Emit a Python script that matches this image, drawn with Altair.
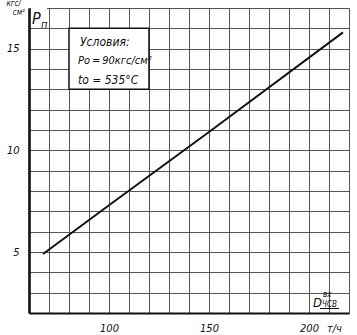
import altair as alt
import pandas as pd

# ---- data ----
flow = [67, 100, 150, 217]            # D вх ЧСВ, т/ч
pressure = [4.9, 7.3, 10.9, 15.8]     # P п, кгс/см²
x_grid = list(range(60, 221, 10))
y_grid = list(range(2, 18))
x_labels = [100, 150, 200]
y_labels = [5, 10, 15]
box_lines = ["Условия:", "Pо\u2009=\u200990кгс/см²", "tо = 535°C"]
box_sizes = [12, 11, 12]

FONT = "DejaVu Sans Condensed"
INK = "#111111"

df = pd.DataFrame({"D": flow, "P": pressure})

xscale = alt.Scale(domain=[60, 220], nice=False, zero=False)
yscale = alt.Scale(domain=[2, 17], nice=False, zero=False)

xaxis = alt.Axis(
    values=x_grid,
    labelExpr=f"indexof({x_labels}, datum.value) >= 0 ? datum.label : ''",
    ticks=False, labelPadding=9, labelFont=FONT, labelFontStyle="italic",
    labelFontSize=11, labelColor=INK, domainColor=INK, domainWidth=2.2,
    grid=True, gridColor="#444444", gridWidth=0.9, labelFlush=False,
    labelOverlap=False,
)
yaxis = alt.Axis(
    values=y_grid,
    labelExpr=f"indexof({y_labels}, datum.value) >= 0 ? datum.label : ''",
    ticks=False, labelPadding=10, labelFont=FONT, labelFontStyle="italic",
    labelFontSize=11, labelColor=INK, domainColor=INK, domainWidth=2.6,
    grid=True, gridColor="#444444", gridWidth=0.9, labelFlush=False,
    labelOverlap=False,
)

line = alt.Chart(df).mark_line(color=INK, strokeWidth=2).encode(
    x=alt.X("D:Q", scale=xscale, axis=xaxis, title=None),
    y=alt.Y("P:Q", scale=yscale, axis=yaxis, title=None),
)

# conditions box
box_df = pd.DataFrame({"x1": [80], "x2": [120], "y1": [13], "y2": [16]})
box = alt.Chart(box_df).mark_rect(fill="white", stroke=INK, strokeWidth=1.5).encode(
    x=alt.X("x1:Q", scale=xscale, axis=xaxis, title=None), x2="x2:Q",
    y=alt.Y("y1:Q", scale=yscale, axis=yaxis, title=None), y2="y2:Q",
)

txt_df = pd.DataFrame({"t": box_lines, "s": box_sizes,
                       "x": [85.5, 84.5, 84.5], "y": [15.13, 14.25, 13.26]})
box_text = alt.Chart(txt_df).mark_text(
    align="left", baseline="alphabetic", font=FONT, fontStyle="italic", color=INK,
).encode(
    x=alt.X("x:Q", scale=xscale, axis=xaxis, title=None),
    y=alt.Y("y:Q", scale=yscale, axis=yaxis, title=None),
    text="t:N",
    size=alt.Size("s:Q", scale=None, legend=None),
)

def label(text, x, y, size, align="left"):
    return alt.Chart(pd.DataFrame({"t": [text]})).mark_text(
        align=align, baseline="alphabetic", font=FONT, fontStyle="italic",
        fontSize=size, color=INK,
    ).encode(x=alt.value(x), y=alt.value(y), text="t:N")

# gap in the top border above the P п cell, as in the drawing
gap = alt.Chart(pd.DataFrame({"a": [0]})).mark_rule(color="white", strokeWidth=2).encode(
    x=alt.value(2), x2=alt.value(18), y=alt.value(0)
)

# axis titles (pixel offsets relative to plot area)
titles = [
    label("кгс/", -8, -2, 8, "right"),
    label("см²", -4, 7, 8, "right"),
    label("P", 3, 16, 16),
    label("п", 12, 20, 11),
    label("D", 284, 299, 13),
    label("вх", 294, 289, 8),
    label("ЧСВ", 293, 299, 8),
    label("т/ч", 298, 324, 11),
]
underline = alt.Chart(pd.DataFrame({"a": [0]})).mark_rule(color=INK, strokeWidth=1).encode(
    x=alt.value(291), x2=alt.value(310), y=alt.value(300.5)
)

chart = alt.layer(line, box, box_text, gap, *titles, underline).properties(
    width=320, height=305,
    padding={"left": 29, "top": 8, "right": 8, "bottom": 22},
    autosize=alt.AutoSizeParams(type="none"),
).configure_view(stroke=INK, strokeWidth=1).configure(background="white")

chart.save("out.html", embed_options={"renderer": "svg", "actions": False})
